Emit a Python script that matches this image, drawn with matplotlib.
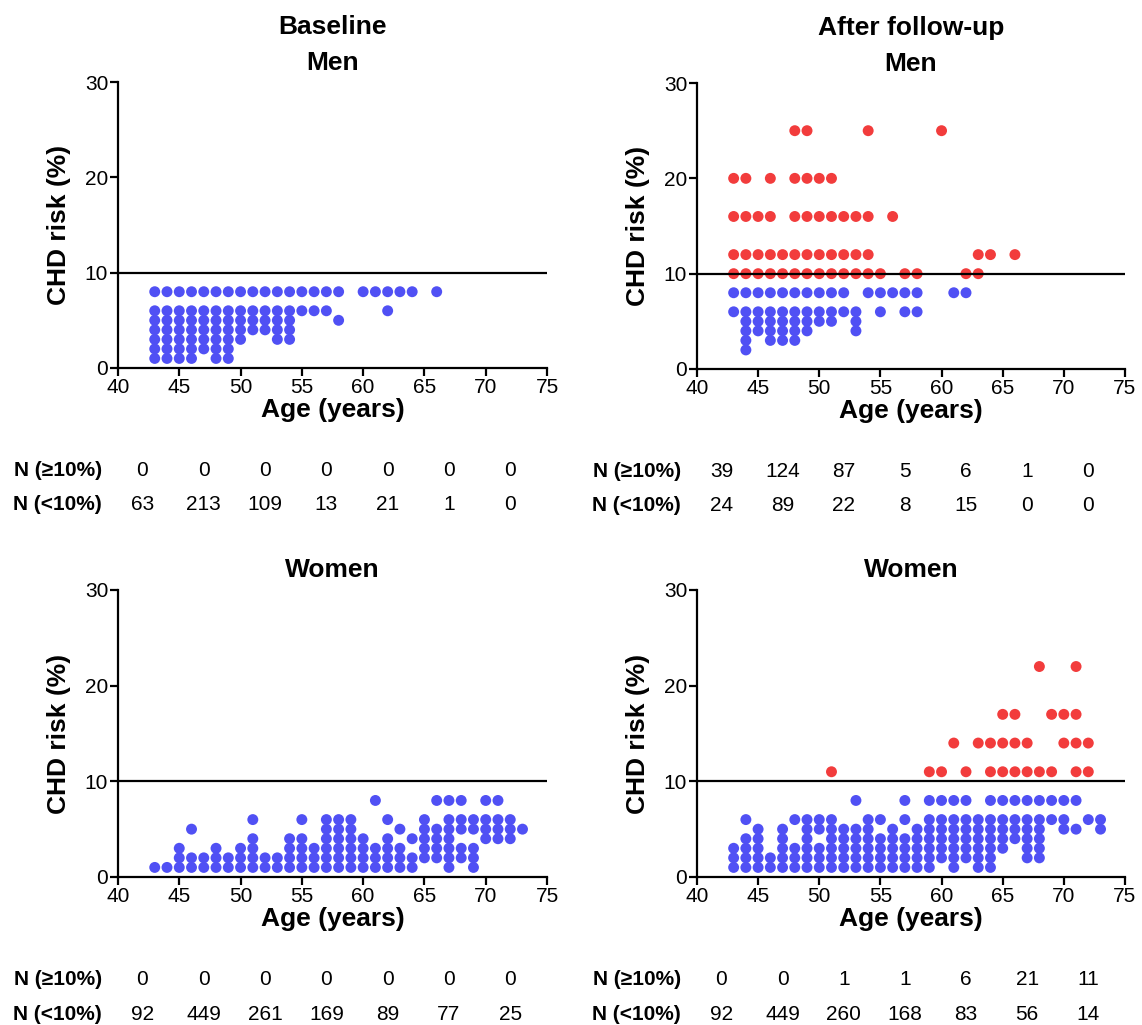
import matplotlib
matplotlib.use("Agg")
import matplotlib.pyplot as plt

plt.rcParams['font.family'] = ['Liberation Sans', 'DejaVu Sans']

# ages that carry dots (one column per year of age)
ages = [43, 44, 45, 46, 47, 48, 49, 50, 51, 52, 53, 54, 55, 56, 57, 58,
        59, 60, 61, 62, 63, 64, 65, 66, 67, 68, 69, 70, 71, 72, 73]

# CHD risk levels (%) present at each age, one list per age above
base_men = [
    [8, 6, 5, 4, 3, 2, 1], [8, 6, 5, 4, 3, 2, 1], [8, 6, 5, 4, 3, 2, 1],
    [8, 6, 5, 4, 3, 2, 1], [8, 6, 5, 4, 3, 2], [8, 6, 5, 4, 3, 2, 1],
    [8, 6, 5, 4, 3, 2, 1], [8, 6, 5, 4, 3], [8, 6, 5, 4], [8, 6, 5, 4],
    [8, 6, 5, 4, 3], [8, 6, 5, 4, 3], [8, 6], [8, 6], [8, 6], [8, 5],
    [], [8], [8], [8, 6], [8], [8], [], [8], [], [], [], [], [], [], [],
]
follow_men = [
    [20, 16, 12, 10, 8, 6], [20, 16, 12, 10, 8, 6, 5, 4, 3, 2],
    [16, 12, 10, 8, 6, 5, 4], [20, 16, 12, 10, 8, 6, 5, 4, 3],
    [12, 10, 8, 6, 5, 4, 3], [25, 20, 16, 12, 10, 8, 6, 5, 4, 3],
    [25, 20, 16, 12, 10, 8, 6, 5, 4], [20, 16, 12, 10, 8, 6, 5],
    [20, 16, 12, 10, 8, 6, 5], [16, 12, 10, 8, 6], [16, 12, 10, 6, 5, 4],
    [25, 16, 12, 10, 8], [10, 8, 6], [16, 8], [10, 8, 6], [10, 8, 6],
    [], [25], [8], [10, 8], [12, 10], [12], [], [12], [], [], [], [], [], [], [],
]
base_women = [
    [1], [1], [3, 2, 1], [5, 2, 1], [2, 1], [3, 2, 1], [2, 1], [3, 2, 1],
    [6, 4, 3, 2, 1], [2, 1], [2, 1], [4, 3, 2, 1], [6, 4, 3, 2, 1], [3, 2, 1],
    [6, 5, 4, 3, 2, 1], [6, 5, 4, 3, 2, 1], [6, 5, 4, 3, 2, 1], [4, 3, 2, 1],
    [8, 3, 2, 1], [6, 4, 3, 2, 1], [5, 3, 2, 1], [4, 2, 1], [6, 5, 4, 3, 2],
    [8, 5, 4, 3, 2], [8, 6, 5, 4, 3, 2, 1], [8, 6, 5, 3, 2], [6, 5, 3, 2, 1],
    [8, 6, 5, 4], [8, 6, 5, 4], [6, 5, 4], [5],
]
follow_women = [
    [3, 2, 1], [6, 4, 3, 2, 1], [5, 4, 3, 2, 1], [2, 1], [5, 4, 3, 2, 1],
    [6, 3, 2, 1], [6, 5, 4, 3, 2, 1], [6, 5, 3, 2, 1], [11, 6, 5, 4, 3, 2, 1],
    [5, 4, 3, 2, 1], [8, 5, 4, 3, 2, 1], [6, 5, 4, 3, 2, 1], [6, 4, 3, 2, 1],
    [5, 4, 3, 2, 1], [8, 6, 4, 3, 2, 1], [5, 4, 3, 2, 1],
    [11, 8, 6, 5, 4, 3, 2, 1], [11, 8, 6, 5, 4, 3, 2], [14, 8, 6, 5, 4, 3, 2, 1],
    [11, 8, 6, 5, 4, 3, 2], [14, 6, 5, 4, 3, 2, 1], [14, 11, 8, 6, 5, 4, 3, 2, 1],
    [17, 14, 11, 8, 6, 5, 4, 3], [17, 14, 11, 8, 6, 5, 4],
    [14, 11, 8, 6, 5, 4, 3, 2], [22, 11, 8, 6, 5, 4, 3, 2], [17, 11, 8, 6],
    [17, 14, 8, 6, 5], [22, 17, 14, 11, 8, 5], [14, 11, 6], [6, 5],
]

# counts table below each panel (age groups 40-44 ... 70-74)
group_mid = [42, 47, 52, 57, 62, 67, 72]
base_men_hi = [0, 0, 0, 0, 0, 0, 0]
base_men_lo = [63, 213, 109, 13, 21, 1, 0]
follow_men_hi = [39, 124, 87, 5, 6, 1, 0]
follow_men_lo = [24, 89, 22, 8, 15, 0, 0]
base_women_hi = [0, 0, 0, 0, 0, 0, 0]
base_women_lo = [92, 449, 261, 169, 89, 77, 25]
follow_women_hi = [0, 0, 1, 1, 6, 21, 11]
follow_women_lo = [92, 449, 260, 168, 83, 56, 14]

BLUE = '#5050F4'
RED = '#F23C3C'


def draw_panel(ax, risks, title, hi, lo):
    xs, ys, cs = [], [], []
    for age, col in zip(ages, risks):
        for r in col:
            xs.append(age)
            ys.append(r)
            cs.append(RED if r >= 10 else BLUE)
    ax.scatter(xs, ys, s=62, c=cs, linewidths=0, zorder=2, clip_on=False)
    ax.axhline(10, color='black', lw=1.6, zorder=3)

    ax.set_xlim(40, 75)
    ax.set_ylim(0, 30)
    ax.set_xticks([40, 45, 50, 55, 60, 65, 70, 75])
    ax.set_yticks([0, 10, 20, 30])
    for s in ['top', 'right']:
        ax.spines[s].set_visible(False)
    for s in ['left', 'bottom']:
        ax.spines[s].set_linewidth(1.6)
    ax.tick_params(direction='out', length=6, width=1.6, labelsize=15, pad=1)
    ax.set_xlabel('Age (years)', fontsize=19, fontweight='bold', labelpad=1)
    ax.set_ylabel('CHD risk (%)', fontsize=19, fontweight='bold', labelpad=10)
    ax.set_title(title, fontsize=19, fontweight='bold', linespacing=1.6, pad=9)

    tr = ax.get_xaxis_transform()
    ax.text(38.7, -0.357, 'N (≥10%)', transform=tr, ha='right', va='center',
            fontsize=15, fontweight='bold')
    ax.text(38.7, -0.479, 'N (<10%)', transform=tr, ha='right', va='center',
            fontsize=15, fontweight='bold')
    for x, a, b in zip(group_mid, hi, lo):
        ax.text(x, -0.357, str(a), transform=tr, ha='center', va='center', fontsize=15)
        ax.text(x, -0.479, str(b), transform=tr, ha='center', va='center', fontsize=15)


fig = plt.figure(figsize=(11.42, 10.25), dpi=100)
ax1 = fig.add_axes([0.1033, 0.641, 0.3757, 0.279])
ax2 = fig.add_axes([0.6103, 0.640, 0.3748, 0.279])
ax3 = fig.add_axes([0.1033, 0.1444, 0.3757, 0.280])
ax4 = fig.add_axes([0.6103, 0.1444, 0.3748, 0.280])

draw_panel(ax1, base_men, 'Baseline\nMen', base_men_hi, base_men_lo)
draw_panel(ax2, follow_men, 'After follow-up\nMen', follow_men_hi, follow_men_lo)
draw_panel(ax3, base_women, 'Women', base_women_hi, base_women_lo)
draw_panel(ax4, follow_women, 'Women', follow_women_hi, follow_women_lo)

fig.savefig('out.png', dpi=100)
